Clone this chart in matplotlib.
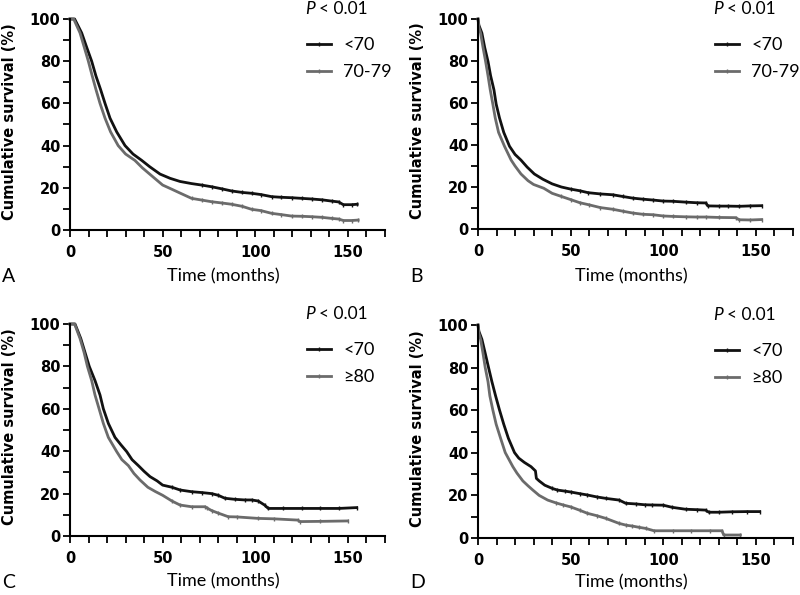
import matplotlib
matplotlib.use("Agg")
import matplotlib.pyplot as plt
from matplotlib.ticker import MultipleLocator

# ---- data (time in months, survival in %) ----
a_lt70_t = [0, 2.5, 6.3, 9, 11.7, 14, 16.5, 18.9, 21.6, 25.2, 29.7, 34, 38.7, 43, 48.6, 54, 59.4, 65.6, 71, 76.4,
            82, 87.2, 93, 98, 103, 108.8, 114, 119.6, 125, 130.4, 136, 141.2, 145, 147.5, 152, 155]
a_lt70_s = [100, 100, 93.4, 86.6, 80, 73, 66.6, 60, 53, 46.5, 40, 36, 33, 30, 26.5, 24.5, 23, 22, 21.3, 20.5,
            19.5, 18.5, 17.8, 17.4, 16.8, 15.8, 15.5, 15.3, 15, 14.7, 14.3, 13.7, 13.3, 12, 12, 12.2]
a_7079_t = [0, 2, 5.4, 7.7, 9.9, 12, 14, 16.2, 18.9, 21.9, 26, 30, 35, 39, 43, 50, 55, 59.4, 65.6, 71, 76.4,
            82, 87.2, 93, 98, 103, 108.8, 114, 119.6, 125, 130.4, 136, 141.2, 145, 147.5, 152, 155.5]
a_7079_s = [100, 100, 93.4, 86.6, 80, 73, 66.6, 60, 53, 46.5, 40, 36, 33, 29.5, 26.5, 21.3, 19.3, 17.5, 15, 14.2, 13.4,
            12.8, 12.2, 11.2, 9.8, 9.2, 7.9, 7.3, 6.6, 6.5, 6.3, 6, 5.5, 5.2, 4.5, 4.5, 4.7]

b_lt70_t = [0, 0.5, 2.1, 3.6, 5.4, 6.8, 8.6, 9.8, 11.6, 13.9, 17, 20, 23.2, 26.5, 30.4, 35, 40, 45, 50, 55, 59.4,
            66, 72.7, 78, 83.5, 89, 94.3, 100, 105, 112, 118, 123, 124, 130, 135, 141, 147, 153]
b_lt70_s = [100, 97, 93.3, 86.5, 79.8, 73, 66.3, 59.5, 52.9, 46, 39.4, 35.5, 32.8, 29.5, 26.2, 23.7, 21.5, 20, 19, 18.2, 17.3,
            16.7, 16.3, 15.5, 14.7, 14.2, 13.8, 13.3, 13.2, 12.8, 12.5, 12.4, 11, 10.9, 10.9, 10.8, 11, 11.1]
b_7079_t = [0, 0.5, 1.4, 2.7, 4.1, 5.4, 6.6, 8, 9.3, 11.1, 14.3, 17.9, 20, 23.2, 27, 30, 35.5, 40, 45, 50, 55, 60,
            66, 72.7, 78, 83.5, 89, 94.3, 100, 105, 112, 118, 123, 130, 139, 141, 147, 153]
b_7079_s = [100, 96, 93.3, 86.5, 79.8, 73, 66.3, 59.5, 52.9, 46, 39.4, 32.8, 30, 26.2, 23, 21.2, 19.4, 17, 15.5, 14, 12.5, 11.5,
            10.2, 9.4, 8.5, 7.6, 7, 6.8, 6.2, 6, 5.8, 5.7, 5.7, 5.5, 5.4, 4.4, 4.3, 4.5]

c_lt70_t = [0, 2.7, 5.8, 8.1, 10.4, 13.5, 16.2, 18, 20.7, 24.3, 27.5, 30.6, 33.5, 36.9, 40, 43.2, 47, 50, 55, 59.4,
            65.6, 71, 76.4, 80, 83.6, 89, 94.4, 98, 101.6, 105, 107, 115, 125, 135, 145, 154.7]
c_lt70_s = [100, 100, 93.2, 86.6, 80, 73.3, 66.5, 60, 53.1, 46.5, 43, 39.8, 36, 33.2, 30.5, 28, 26, 24, 23, 21.7,
            20.9, 20.5, 20, 19.2, 17.8, 17.3, 17, 17, 16.5, 14.6, 13, 13, 13, 13, 13, 13.4]
c_ge80_t = [0, 2.5, 5.4, 7.6, 9.4, 11.7, 13.5, 15.7, 18, 20.7, 25.2, 28, 31.5, 34.5, 37.8, 42, 46, 50, 55, 59.4,
            65.6, 72.8, 74, 76.4, 80, 85.4, 90, 101.6, 110, 123, 124, 135, 149.8]
c_ge80_s = [100, 100, 93.2, 86.6, 80, 73.3, 66.5, 60, 53.1, 46.5, 39.8, 36, 33.2, 29.5, 26.4, 23, 21, 19.2, 16.5, 14.6,
            13.8, 13.8, 13.2, 12, 10.8, 9.1, 9, 8.3, 8.1, 7.5, 6.8, 6.9, 7.1]

d_lt70_t = [0, 0.5, 2.1, 3.9, 5.7, 7.5, 9.5, 11.6, 13.9, 16.4, 19.7, 22, 25, 28.6, 31, 31.5, 33, 36, 40, 42.9, 47, 50,
            55, 59, 64, 69, 76.2, 79.7, 85, 90, 94, 100, 104.8, 112, 118, 122.8, 124.6, 130, 137, 145, 152]
d_lt70_s = [100, 97, 93.3, 86.7, 80, 73.4, 66.7, 60.1, 53.4, 46.8, 40.1, 37.5, 35.5, 33.5, 31.5, 28, 26.8, 24.8, 23.3, 22.5, 22, 21.6,
            20.8, 20.2, 19.3, 18.6, 17.8, 16.3, 16, 15.6, 15.5, 15.4, 14.4, 13.5, 13.3, 13.1, 12.1, 12.1, 12.3, 12.4, 12.4]
d_ge80_t = [0, 0.5, 1.4, 2.7, 3.9, 5.4, 6.4, 8, 9.8, 12.2, 14.7, 18.8, 21, 24.2, 27, 29.6, 33, 37.6, 42, 46, 50,
            55, 59, 64, 69, 76, 80, 83.3, 87, 90.5, 95, 105, 115, 125, 131.7, 132.6, 141.6]
d_ge80_s = [100, 96, 93.3, 86.7, 80, 73.4, 66.7, 60.1, 53.4, 46.8, 40.1, 33.5, 30.5, 26.8, 24.5, 22.5, 20, 17.8, 16.5, 15.5, 14.6,
            13, 11.6, 10.5, 9.2, 6.9, 6, 5.6, 5, 4.5, 3.4, 3.4, 3.4, 3.4, 3.4, 1.4, 1.4]

panels = [
    ("A", (a_lt70_t, a_lt70_s), (a_7079_t, a_7079_s), "70-79"),
    ("B", (b_lt70_t, b_lt70_s), (b_7079_t, b_7079_s), "70-79"),
    ("C", (c_lt70_t, c_lt70_s), (c_ge80_t, c_ge80_s), "≥80"),
    ("D", (d_lt70_t, d_lt70_s), (d_ge80_t, d_ge80_s), "≥80"),
]

plt.rcParams["font.family"] = "DejaVu Sans"
plt.rcParams["font.weight"] = "bold"

W, H = 800, 595
fig = plt.figure(figsize=(8, 5.95), dpi=100)

def fx(px):
    return px / W

def fy(py):
    return 1 - py / H

# pixel boxes: left, top, right, bottom
boxes = [(70, 19, 385, 230), (478, 19, 793, 229), (70, 324, 385, 536), (478, 325, 793, 538)]
offs = [(0, 0), (408, 0), (0, 305), (408, 306)]
black = "#111111"
grey = "#6b6b6b"

for (letter, c1, c2, lab2), (l, t, r, b), (ox, oy) in zip(panels, boxes, offs):
    ax = fig.add_axes([fx(l), fy(b), (r - l) / W, (b - t) / H])
    ax.plot(c1[0], c1[1], color=black, lw=2.0, marker="|", ms=3.5, mew=1,
            markevery=slice(18, None), clip_on=False, label="<70")
    ax.plot(c2[0], c2[1], color=grey, lw=2.0, marker="|", ms=3.5, mew=1,
            markevery=slice(18, None), clip_on=False, label=lab2)
    ax.set_xlim(0, 170)
    ax.set_ylim(0, 100)
    ax.xaxis.set_major_locator(MultipleLocator(50))
    ax.xaxis.set_minor_locator(MultipleLocator(10))
    ax.yaxis.set_major_locator(MultipleLocator(20))
    ax.yaxis.set_minor_locator(MultipleLocator(10))
    for s in ["top", "right"]:
        ax.spines[s].set_visible(False)
    for s in ["left", "bottom"]:
        ax.spines[s].set_linewidth(1.5)
    ax.tick_params(which="both", direction="out", width=1.3, length=5)
    ax.tick_params(axis="y", which="major", labelsize=10.5, pad=2)
    ax.tick_params(axis="x", which="major", labelsize=10.5, pad=6)

    fig.text(fx(10 + ox), fy((t + b) / 2 - 3), "Cumulative survival (%)", fontsize=10.5,
             fontweight="bold", rotation=90, ha="center", va="center")
    ax.legend(loc="upper left", bbox_to_anchor=(fx(307 + ox), fy(37 + oy)),
              bbox_transform=fig.transFigure, frameon=False,
              handlelength=1.35, handletextpad=0.65, labelspacing=0.62,
              borderpad=0, borderaxespad=0, numpoints=1,
              prop={"family": "Lato", "size": 13, "weight": "normal"})
    fig.text(fx(305 + ox), fy(9 + oy), "P", fontsize=12.5, family="Lato", style="italic",
             fontweight="normal", ha="left", va="center")
    fig.text(fx(319 + ox), fy(9 + oy), "< 0.01", fontsize=12.5, family="Lato",
             fontweight="normal", ha="left", va="center")
    fig.text(fx(223 + ox), fy(276 + oy), "Time (months)", fontsize=13, family="Lato",
             fontweight="normal", ha="center", va="center")
    fig.text(fx(2 + ox), fy(277 + oy), letter, fontsize=14, family="Lato",
             fontweight="normal", ha="left", va="center")

fig.savefig("out.png", dpi=100)
